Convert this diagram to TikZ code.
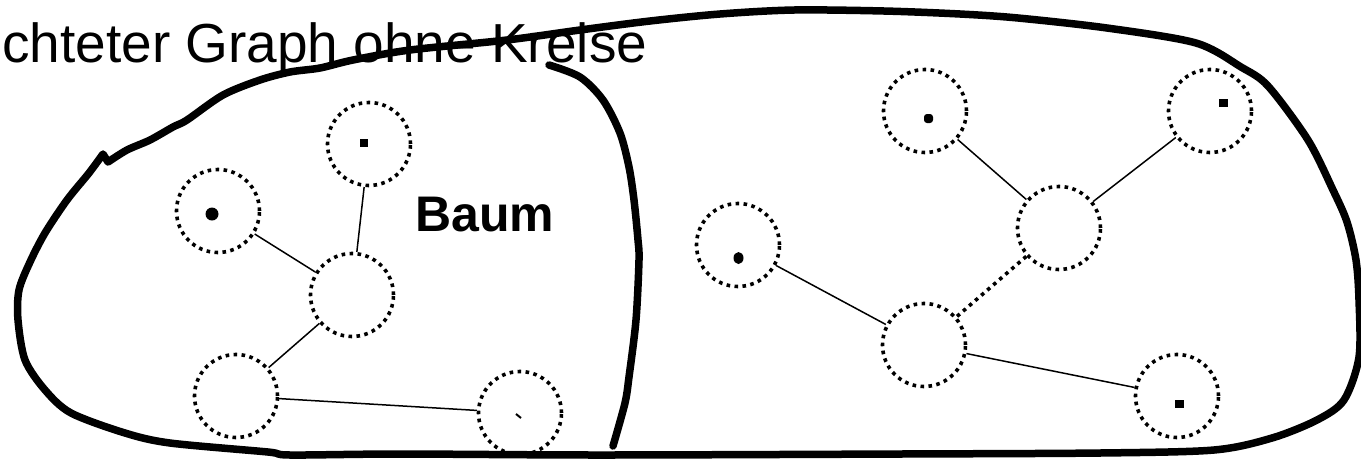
\documentclass[tikz,border=0pt]{standalone}
\usepackage{fontspec}
\setmainfont{Liberation Sans}

\tikzset{
  knoten/.style={circle, draw, line width=3.6pt, dash pattern=on 3.6pt off 4.4pt, minimum size=83pt, inner sep=0pt},
  kante/.style={line width=1.5pt},
  punktkante/.style={line width=3.6pt, dash pattern=on 3.6pt off 4.4pt},
  rand/.style={line width=7.5pt, line join=round, line cap=round},
}

\begin{document}
\begin{tikzpicture}[x=1pt, y=-1pt]
  \useasboundingbox (0,0) rectangle (1361,459);
  \node[anchor=base west, inner sep=0pt, font=\fontsize{55}{60}\selectfont] (titel) at (2,62) {chteter Graph ohne Kreise};
  \node[anchor=base west, inner sep=0pt, font=\fontsize{50}{52}\selectfont\bfseries] (baum) at (415,231) {Baum};

  % linker Baum
  \node[knoten] (la) at (369,144) {};
  \node[knoten] (lb) at (218,211) {};
  \node[knoten] (lc) at (352,295) {};
  \node[knoten] (ld) at (236,396) {};
  \node[knoten] (le) at (520,413) {};
  \draw[kante] (la) -- (lc);
  \draw[kante] (lb) -- (lc);
  \draw[kante] (lc) -- (ld);
  \draw[kante] (ld) -- (le);
  \fill (360,139) rectangle (368,147);
  \fill (212,214) circle (6.5);
  \draw[line width=2pt] (516,414) -- (521,418);

  % rechter Teil
  \node[knoten] (ra) at (925,111) {};
  \node[knoten] (rb) at (1210,111) {};
  \node[knoten] (rc) at (1059,228) {};
  \node[knoten] (rd) at (738,245) {};
  \node[knoten] (re) at (924,345) {};
  \node[knoten] (rf) at (1177,396) {};
  \draw[kante] (ra) -- (rc);
  \draw[kante] (rb) -- (rc);
  \draw[punktkante] (rc) -- (re);
  \draw[kante] (rd) -- (re);
  \draw[kante] (re) -- (rf);
  \fill[rounded corners=3pt] (924,114) rectangle (933,123);
  \fill (1219,99) rectangle (1228,107);
  \fill (1175,400) rectangle (1184,408);
  \fill (738.5,258) ellipse (5 and 6);

  % Umriss
  \draw[rand] plot[smooth, tension=0.5] coordinates {
    (108,162) (127,150) (150,140) (173,127) (187,120) (223,95) (260,80) (290,72)
    (320,68) (353,60) (410,50) (507,40) (580,30) (650,21) (720,14) (794,10)
    (884,11) (960,14) (1018,18) (1107,28) (1196,43) (1241,67) (1268,86)
    (1308,140) (1333,190) (1347,222) (1356,260) (1359,300) (1359,357) (1344,400)
    (1317,420) (1272,438) (1214,450) (1100,453) (900,454) (600,455) (400,454)
    (290,455) (268,452) (170,443) (125,433) (71,413) (45,390) (25,360) (18,320)
    (19,290) (30,262) (45,233) (67,200) (89,173) (103,154)
  } -- cycle;
  \draw[rand] plot[smooth, tension=0.5] coordinates {
    (549,65) (580,77) (603,100) (620,133) (629,167) (634,200) (638,240)
    (639,260) (636,320) (629,377) (625,403) (613,446)
  };
\end{tikzpicture}
\end{document}
